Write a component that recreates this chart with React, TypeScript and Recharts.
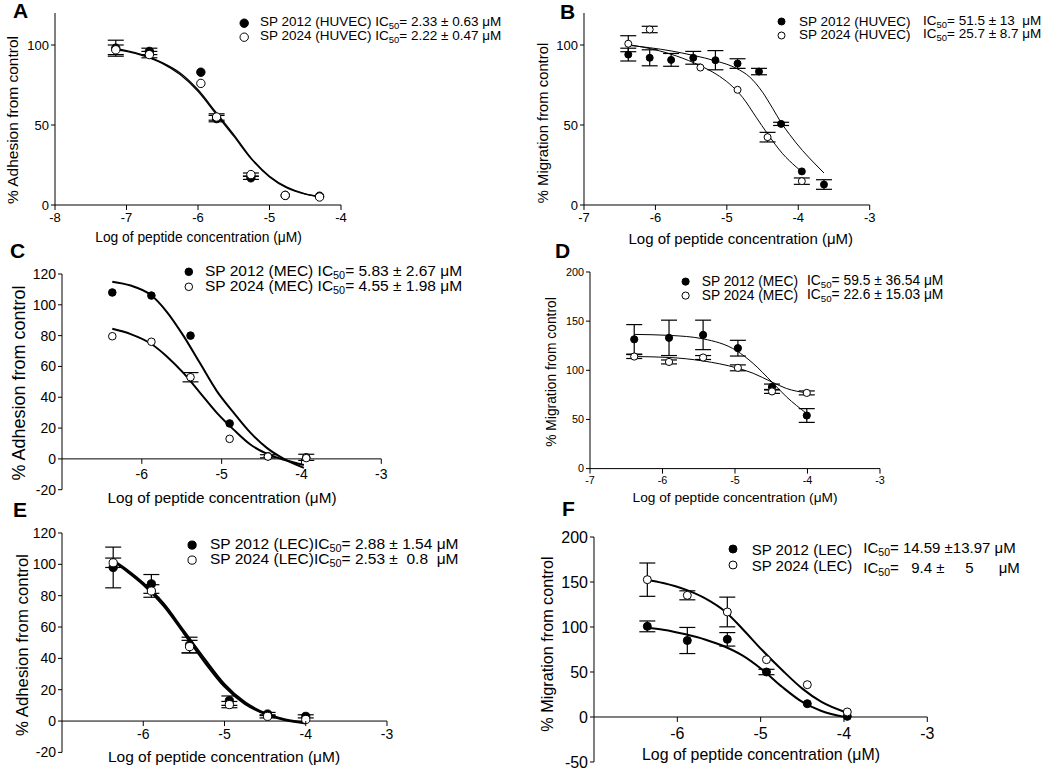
import React from 'react'
import { ComposedChart, Line, Scatter, XAxis, YAxis, ErrorBar, ReferenceLine } from 'recharts'

const FONT = '"Liberation Sans", Arial, Helvetica, sans-serif'

// ---------- A: HUVEC adhesion ----------
const aConc = [-7.15, -6.68, -5.96, -5.74, -5.26, -4.78, -4.3]
const a2012 = [98, 96, 83, 54, 17, 6, 5.5]
const a2012Err = [5, 2, 0, 2, 1, 0, 0]
const a2024 = [97, 94, 76, 55, 19, 6, 5]
const a2024Err = [3, 2, 0, 2, 1, 0, 0]
const aFitX = [-7.15, -7.0, -6.75, -6.5, -6.25, -6.0, -5.75, -5.5, -5.25, -5.0, -4.75, -4.5, -4.3]
const aFit2012 = [97.5, 96.5, 93.5, 89, 82.5, 72, 58, 44, 29, 18, 11, 7, 5.3]
const aFit2024 = [97, 96, 93, 88.5, 81.5, 71, 57, 43, 28.5, 17.5, 10.5, 6.8, 5.2]

// ---------- B: HUVEC migration ----------
const bConc2012 = [-6.38, -6.08, -5.78, -5.47, -5.16, -4.85, -4.55, -4.24, -3.95, -3.64]
const b2012 = [94, 92, 90.7, 92, 90.5, 88.4, 83.4, 50.7, 21, 12.8]
const b2012Err = [4, 5, 4, 4, 6, 3, 2, 1, 0, 3]
const bConc2024 = [-6.38, -6.08, -5.37, -4.85, -4.43, -3.95]
const b2024 = [100.8, 109.7, 85.9, 72, 42.4, 14.9]
const b2024Err = [5, 2, 0, 0, 3, 2]
const bFitX2012 = [-6.38, -6.08, -5.78, -5.48, -5.15, -4.87, -4.68, -4.5, -4.36, -4.24, -4.12, -3.94, -3.75, -3.64]
const bFit2012 = [99.8, 98.3, 96.3, 93.6, 90, 85.5, 80, 70.5, 60.5, 51.5, 44, 34, 25, 20]
const bFitX2024 = [-6.38, -5.94, -5.71, -5.37, -5.15, -4.96, -4.78, -4.59, -4.43, -4.22, -4.03, -3.95]
const bFit2024 = [100.3, 96.3, 93.2, 87, 81.8, 75.6, 67.3, 54.9, 44.5, 32.1, 23.8, 20.7]

// ---------- C: MEC adhesion ----------
const cConc = [-6.37, -5.88, -5.39, -4.9, -4.42, -3.94]
const c2012 = [108, 106, 80, 23, 1.7, 1]
const c2012Err = [0, 0, 0, 0, 1, 2]
const c2024 = [79.6, 76, 53, 13, 1.5, 0.5]
const c2024Err = [0, 0, 3, 0, 0, 0]
const cFitX = [-6.37, -6.14, -5.89, -5.68, -5.48, -5.27, -5.06, -4.85, -4.64, -4.43, -4.22, -3.97]
const cFit2012 = [115, 112.5, 106.5, 95, 80, 62, 44, 30, 17, 7, 0, -5.8]
const cFit2024 = [84.4, 81, 74.9, 66.2, 55.8, 42.9, 29.9, 19, 9.3, 3.2, -0.6, -4]

// ---------- D: MEC migration ----------
const dConc = [-6.39, -5.91, -5.44, -4.96, -4.49, -4.01]
const d2012 = [131.5, 133, 136, 122.5, 83, 54]
const d2012Err = [15, 18, 15, 8, 3, 7]
const d2024 = [114, 108.5, 113, 102.5, 78.5, 77]
const d2024Err = [2, 2, 2, 3, 2, 2]
const dFitX = [-6.39, -5.9, -5.44, -4.98, -4.75, -4.49, -4.29, -4.01]
const dFit2012 = [136.5, 135.5, 132, 120, 107, 88, 73, 56]
const dFit2024 = [114, 113, 109.5, 102.5, 97, 88, 81.5, 77]

// ---------- E: LEC adhesion ----------
const eConc = [-6.37, -5.9, -5.43, -4.94, -4.47, -4.0]
const e2012 = [98, 87.5, 48.5, 13, 4.5, 3]
const e2012Err = [13, 6, 5, 3, 1, 1]
const e2024 = [101, 83, 47.5, 10.5, 3, 1]
const e2024Err = [3, 4, 4, 2, 1, 0]
const eFitX = [-6.37, -6.2, -6.0, -5.75, -5.5, -5.25, -5.0, -4.75, -4.5, -4.25, -4.0]
const eFit2012 = [102, 95.5, 87, 73.5, 56, 38, 22, 11, 4.5, 0.5, -1.5]
const eFit2024 = [102.5, 96.5, 88, 75, 57.5, 40, 23.5, 12, 5, 1, -1]

// ---------- F: LEC migration ----------
const fConc = [-6.36, -5.88, -5.4, -4.93, -4.44, -3.96]
const f2012 = [100.7, 85, 86.3, 50, 14.8, 0.7]
const f2012Err = [6, 14.5, 7.5, 3, 0, 0]
const f2024 = [152.6, 135.2, 116.7, 63.7, 35.9, 5.6]
const f2024Err = [18.5, 5, 16.5, 0, 0, 0]
const fFitX = [-6.37, -6.17, -5.9, -5.66, -5.42, -5.22, -4.98, -4.74, -4.5, -4.27, -3.99]
const fFit2012 = [99.3, 97, 91.9, 85.9, 77.8, 68.5, 52.6, 33.3, 16.7, 6.7, 0]
const fFit2024 = [152.6, 148.9, 141.5, 131.5, 116.7, 98.1, 74.1, 51.9, 31.5, 16.7, 5.6]

// legend labels
const huvecNames = ['SP 2012 (HUVEC)', 'SP 2024 (HUVEC)']
const mecNames = ['SP 2012 (MEC)', 'SP 2024 (MEC)']
const lecNames = ['SP 2012 (LEC)', 'SP 2024 (LEC)']
const aIC = ['= 2.33 ± 0.63 μM', '= 2.22 ± 0.47 μM']
const bIC = ['= 51.5 ± 13  μM', '= 25.7 ± 8.7 μM']
const cIC = ['= 5.83 ± 2.67 μM', '= 4.55 ± 1.98 μM']
const dIC = ['= 59.5 ± 36.54 μM', '= 22.6 ± 15.03 μM']
const eIC = ['= 2.88 ± 1.54 μM', '= 2.53 ±  0.8  μM']
const fIC = ['= 14.59 ±13.97 μM', '=   9.4 ±     5      μM']

const X_TITLE = 'Log of peptide concentration (μM)'

type Pt = { x: number; y: number; e?: number }

const toPts = (xs: number[], ys: number[], es?: number[]): Pt[] =>
  xs.map((x, i) => ({ x, y: ys[i], e: es ? es[i] : 0 }))

interface PanelProps {
  plot: [number, number, number, number] // x0, x1, y0, y1 in page px
  xDomain: [number, number]
  xTicks: number[]
  yDomain: [number, number]
  yTicks: number[]
  zeroAxis?: boolean
  tickFont: number
  xTickGap: number
  r: number
  lineW: number
  filled: Pt[]
  open: Pt[]
  fitFilled: Pt[]
  fitOpen: Pt[]
}

const dot = (r: number, filled: boolean) => (p: any) => (
  <circle cx={p.cx} cy={p.cy} r={r} fill={filled ? '#000' : '#fff'} stroke="#000" strokeWidth={1} />
)

function Panel(props: PanelProps) {
  const { plot, xDomain, xTicks, yDomain, yTicks, zeroAxis, tickFont, xTickGap, r, lineW } = props
  const [x0, x1, y0, y1] = plot
  const yW = 60
  const padTop = 10
  const padRight = 10
  const xH = 40
  const plotH = y1 - y0
  const width = x1 - x0 + yW + padRight
  const height = plotH + padTop + xH
  // distance between the bottom of the plot and the y = 0 line
  const zeroShift = zeroAxis ? (plotH * (0 - yDomain[0])) / (yDomain[1] - yDomain[0]) : 0
  const tickStyle = { fill: '#000', fontSize: tickFont, fontFamily: FONT }

  const xTick = (t: any) => {
    const zy = t.y - zeroShift
    return (
      <g>
        <line x1={t.x} x2={t.x} y1={zy} y2={zy + 5} stroke="#000" />
        <text x={t.x} y={zy + xTickGap} dy="0.71em" textAnchor="middle" {...tickStyle}>
          {t.payload.value}
        </text>
      </g>
    )
  }

  return (
    <div style={{ position: 'absolute', left: x0 - yW, top: y0 - padTop }}>
      <ComposedChart width={width} height={height} margin={{ top: padTop, right: padRight, bottom: 0, left: 0 }}>
        <XAxis
          type="number"
          dataKey="x"
          domain={xDomain}
          ticks={xTicks}
          interval={0}
          allowDataOverflow
          height={xH}
          tickSize={0}
          tickMargin={0}
          tickLine={false}
          axisLine={zeroAxis ? false : { stroke: '#000' }}
          tick={xTick}
        />
        <YAxis
          type="number"
          domain={yDomain}
          ticks={yTicks}
          interval={0}
          allowDataOverflow
          width={yW}
          tickSize={4}
          tickMargin={2}
          tickLine={{ stroke: '#000' }}
          axisLine={{ stroke: '#000' }}
          tick={tickStyle}
        />
        {zeroAxis && <ReferenceLine y={0} stroke="#000" strokeWidth={1} />}
        <Line data={props.fitFilled} dataKey="y" type="monotone" stroke="#000" strokeWidth={lineW} dot={false} isAnimationActive={false} />
        <Line data={props.fitOpen} dataKey="y" type="monotone" stroke="#000" strokeWidth={lineW} dot={false} isAnimationActive={false} />
        <Scatter data={props.filled} dataKey="y" shape={dot(r, true)} isAnimationActive={false}>
          <ErrorBar dataKey="e" direction="y" width={8} stroke="#000" strokeWidth={1.2} />
        </Scatter>
        <Scatter data={props.open} dataKey="y" shape={dot(r, false)} isAnimationActive={false}>
          <ErrorBar dataKey="e" direction="y" width={8} stroke="#000" strokeWidth={1.2} />
        </Scatter>
      </ComposedChart>
    </div>
  )
}

const Title = ({ text, cx, cy, size, rotate = false }: { text: string; cx: number; cy: number; size: number; rotate?: boolean }) => (
  <div
    style={{
      position: 'absolute',
      left: cx,
      top: cy,
      transform: `translate(-50%, -50%)${rotate ? ' rotate(-90deg)' : ''}`,
      fontSize: size,
      fontFamily: FONT,
      lineHeight: 1,
      whiteSpace: 'nowrap',
      color: '#000',
    }}
  >
    {text}
  </div>
)

const Letter = ({ ch, x, capTop }: { ch: string; x: number; capTop: number }) => (
  <div style={{ position: 'absolute', left: x, top: capTop - 3, fontSize: 21, fontWeight: 700, fontFamily: FONT, lineHeight: 1 }}>
    {ch}
  </div>
)

const IC = ({ value }: { value: string }) => (
  <span>
    IC<span style={{ fontSize: '0.7em', verticalAlign: '-0.3em' }}>50</span>
    {value}
  </span>
)

interface LegendProps {
  cx: number
  rows: [number, number]
  r: number
  nameX: number
  names: string[]
  ics: string[]
  icX?: number // separate column for the IC50 text
  sep?: string // separator when the IC50 text follows the name
  icDy?: [number, number]
  size: number
}

function PanelLegend({ cx, rows, r, nameX, names, ics, icX, sep = ' ', icDy = [0, 0], size }: LegendProps) {
  const txt = (left: number, cy: number): React.CSSProperties => ({
    position: 'absolute',
    left,
    top: cy,
    transform: 'translateY(-50%)',
    fontSize: size,
    fontFamily: FONT,
    lineHeight: 1,
    whiteSpace: 'pre',
    color: '#000',
  })
  return (
    <>
      {rows.map((cy, i) => (
        <React.Fragment key={i}>
          <svg style={{ position: 'absolute', left: cx - r - 1, top: cy - r - 1 }} width={2 * r + 2} height={2 * r + 2}>
            <circle cx={r + 1} cy={r + 1} r={r} fill={i === 0 ? '#000' : '#fff'} stroke="#000" strokeWidth={1} />
          </svg>
          {icX === undefined ? (
            <div style={txt(nameX, cy)}>
              {names[i]}
              {sep}
              <IC value={ics[i]} />
            </div>
          ) : (
            <>
              <div style={txt(nameX, cy)}>{names[i]}</div>
              <div style={txt(icX, cy + icDy[i])}>
                <IC value={ics[i]} />
              </div>
            </>
          )}
        </React.Fragment>
      ))}
    </>
  )
}

export default function App() {
  return (
    <div style={{ position: 'absolute', left: 0, top: 0, width: 1050, height: 770, background: '#fff', overflow: 'hidden' }}>
      {/* A */}
      <Panel
        plot={[55, 341, 13, 205]}
        xDomain={[-8, -4]}
        xTicks={[-8, -7, -6, -5, -4]}
        yDomain={[0, 120]}
        yTicks={[0, 50, 100]}
        tickFont={13}
        xTickGap={8}
        r={4.2}
        lineW={1.3}
        filled={toPts(aConc, a2012, a2012Err)}
        open={toPts(aConc, a2024, a2024Err)}
        fitFilled={toPts(aFitX, aFit2012)}
        fitOpen={toPts(aFitX, aFit2024)}
      />
      <Letter ch="A" x={13} capTop={3} />
      <Title text="% Adhesion from control" cx={13} cy={120} size={15.5} rotate />
      <Title text={X_TITLE} cx={198.5} cy={238} size={13.8} />
      <PanelLegend cx={244} rows={[23, 37]} r={4.2} nameX={260} names={huvecNames} ics={aIC} size={13.5} />

      {/* B */}
      <Panel
        plot={[584.3, 870, 13, 205]}
        xDomain={[-7, -3]}
        xTicks={[-7, -6, -5, -4, -3]}
        yDomain={[0, 120]}
        yTicks={[0, 50, 100]}
        tickFont={13}
        xTickGap={8}
        r={3.5}
        lineW={1}
        filled={toPts(bConc2012, b2012, b2012Err)}
        open={toPts(bConc2024, b2024, b2024Err)}
        fitFilled={toPts(bFitX2012, bFit2012)}
        fitOpen={toPts(bFitX2024, bFit2024)}
      />
      <Letter ch="B" x={560} capTop={4} />
      <Title text="% Migration from control" cx={542.5} cy={123} size={14.8} rotate />
      <Title text={X_TITLE} cx={740.8} cy={238} size={15} />
      <PanelLegend cx={781.7} rows={[21.7, 35]} r={3.5} nameX={799} icX={923} names={huvecNames} ics={bIC} size={13.5} />

      {/* C */}
      <Panel
        plot={[61.7, 381, 274.3, 490]}
        xDomain={[-7, -3]}
        xTicks={[-6, -5, -4, -3]}
        yDomain={[-20, 120]}
        yTicks={[-20, 0, 20, 40, 60, 80, 100, 120]}
        zeroAxis
        tickFont={14}
        xTickGap={10.5}
        r={3.8}
        lineW={2}
        filled={toPts(cConc, c2012, c2012Err)}
        open={toPts(cConc, c2024, c2024Err)}
        fitFilled={toPts(cFitX, cFit2012)}
        fitOpen={toPts(cFitX, cFit2024)}
      />
      <Letter ch="C" x={10} capTop={243} />
      <Title text="% Adhesion from control" cx={19} cy={383} size={18} rotate />
      <Title text={X_TITLE} cx={222} cy={498} size={15.3} />
      <PanelLegend cx={189} rows={[272, 287]} r={3.8} nameX={205} names={mecNames} ics={cIC} size={15.5} />

      {/* D */}
      <Panel
        plot={[590, 880, 271.7, 468.3]}
        xDomain={[-7, -3]}
        xTicks={[-7, -6, -5, -4, -3]}
        yDomain={[0, 200]}
        yTicks={[0, 50, 100, 150, 200]}
        tickFont={10.8}
        xTickGap={8}
        r={3.6}
        lineW={1}
        filled={toPts(dConc, d2012, d2012Err)}
        open={toPts(dConc, d2024, d2024Err)}
        fitFilled={toPts(dFitX, dFit2012)}
        fitOpen={toPts(dFitX, dFit2024)}
      />
      <Letter ch="D" x={555} capTop={243} />
      <Title text="% Migration from control" cx={551.5} cy={372} size={13.8} rotate />
      <Title text={X_TITLE} cx={735} cy={498} size={13.7} />
      <PanelLegend cx={685.7} rows={[281.7, 296]} r={3.6} nameX={701.7} icX={807} names={mecNames} ics={dIC} size={13.8} />

      {/* E */}
      <Panel
        plot={[61.7, 386.7, 533.3, 752.7]}
        xDomain={[-7, -3]}
        xTicks={[-6, -5, -4, -3]}
        yDomain={[-20, 120]}
        yTicks={[-20, 0, 20, 40, 60, 80, 100, 120]}
        zeroAxis
        tickFont={14}
        xTickGap={8.5}
        r={4.1}
        lineW={2.2}
        filled={toPts(eConc, e2012, e2012Err)}
        open={toPts(eConc, e2024, e2024Err)}
        fitFilled={toPts(eFitX, eFit2012)}
        fitOpen={toPts(eFitX, eFit2024)}
      />
      <Letter ch="E" x={13} capTop={502} />
      <Title text="% Adhesion from control" cx={22.5} cy={645} size={16.8} rotate />
      <Title text={X_TITLE} cx={224} cy={756.7} size={15.5} />
      <PanelLegend cx={191.7} rows={[545, 560]} r={4.1} nameX={210} names={lecNames} ics={eIC} sep="" size={15.5} />

      {/* F */}
      <Panel
        plot={[594, 927.3, 536.7, 761.7]}
        xDomain={[-7, -3]}
        xTicks={[-6, -5, -4, -3]}
        yDomain={[-50, 200]}
        yTicks={[-50, 0, 50, 100, 150, 200]}
        zeroAxis
        tickFont={16}
        xTickGap={10.5}
        r={4}
        lineW={2}
        filled={toPts(fConc, f2012, f2012Err)}
        open={toPts(fConc, f2024, f2024Err)}
        fitFilled={toPts(fFitX, fFit2012)}
        fitOpen={toPts(fFitX, fFit2024)}
      />
      <Letter ch="F" x={562} capTop={501} />
      <Title text="% Migration from control" cx={546.7} cy={644} size={16.2} rotate />
      <Title text={X_TITLE} cx={761} cy={755} size={15.9} />
      <PanelLegend
        cx={733.3}
        rows={[549, 564.5]}
        r={4}
        nameX={751.7}
        icX={863.3}
        icDy={[0, 4]}
        names={lecNames}
        ics={fIC}
        size={15}
      />
    </div>
  )
}
